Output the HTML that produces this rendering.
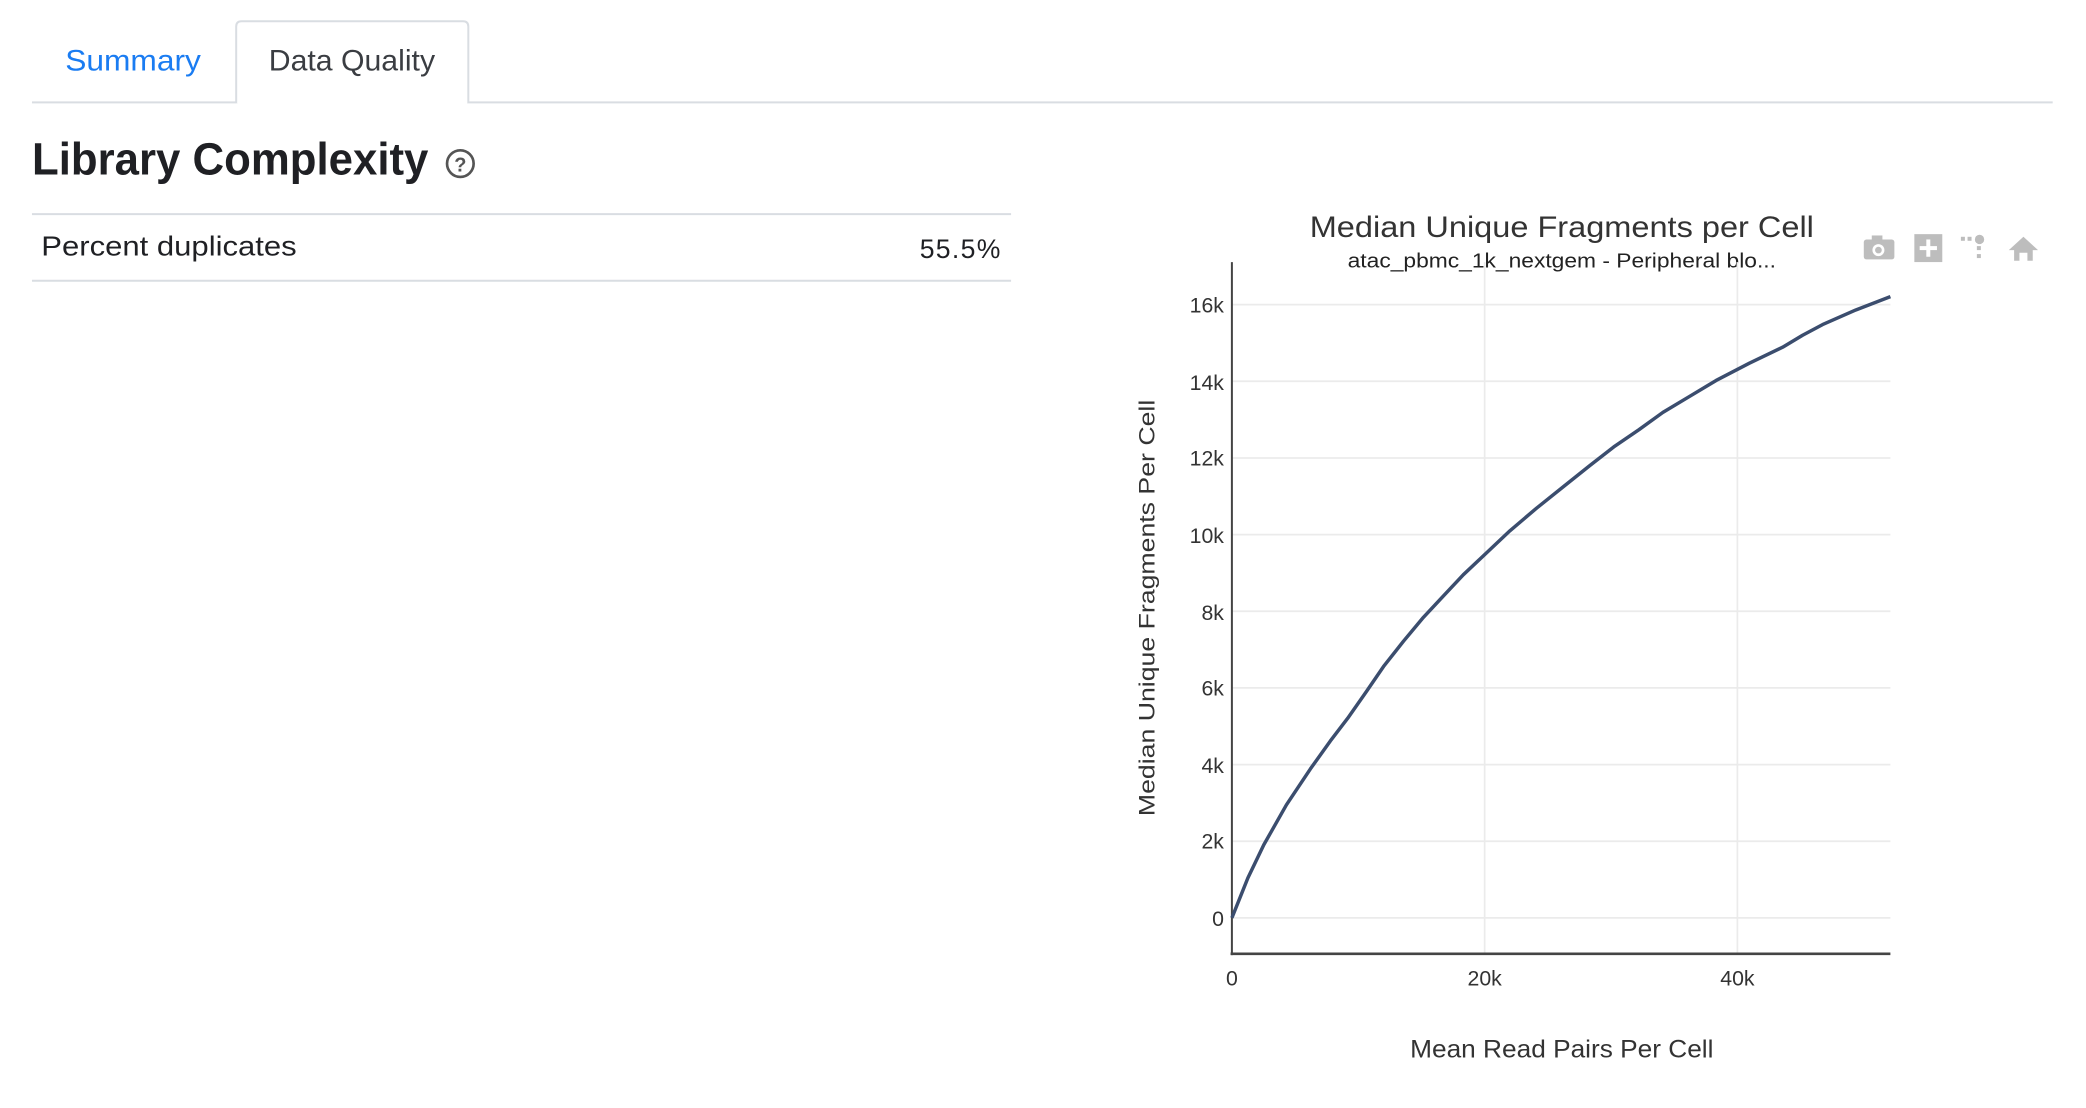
<!DOCTYPE html>
<html><head><meta charset="utf-8"><style>
html,body{margin:0;padding:0;background:#fff;}
svg{display:block;}
text{font-family:"Liberation Sans Narrow","Liberation Sans",sans-serif;}
</style></head><body>
<svg width="2086" height="1108" viewBox="0 0 1568 832.9" xmlns="http://www.w3.org/2000/svg">
<!-- tabs -->
<line x1="24" y1="77" x2="1543" y2="77" stroke="#d9dde2" stroke-width="1.5"/>
<path d="M177.5 77.5 V20 Q177.5 16 181.5 16 H348 Q352 16 352 20 V77.5" fill="#fff" stroke="#d9dde2" stroke-width="1.5"/>
<line x1="178.5" y1="77" x2="351" y2="77" stroke="#fff" stroke-width="2"/>
<text x="49" y="53" font-size="22" fill="#1a7cf2" textLength="102" lengthAdjust="spacingAndGlyphs">Summary</text>
<text x="202" y="53" font-size="22" fill="#3a3d42" textLength="125" lengthAdjust="spacingAndGlyphs">Data Quality</text>
<!-- heading -->
<text x="24" y="131" font-size="34" font-weight="bold" fill="#1f2024" textLength="298" lengthAdjust="spacingAndGlyphs">Library Complexity</text>
<circle cx="346" cy="123" r="10" fill="none" stroke="#555" stroke-width="2"/>
<text x="346" y="129" font-size="15" font-weight="bold" fill="#555" text-anchor="middle">?</text>
<line x1="24" y1="161" x2="760" y2="161" stroke="#d9dde2" stroke-width="1.5"/>
<line x1="24" y1="211" x2="760" y2="211" stroke="#d9dde2" stroke-width="1.5"/>
<text x="31" y="192" font-size="21" fill="#1f2024" textLength="192" lengthAdjust="spacingAndGlyphs">Percent duplicates</text>
<text x="753" y="194" font-size="20" fill="#1f2024" text-anchor="end" letter-spacing="1">55.5%</text>
<!-- chart -->
<text x="1174" y="178" font-size="22" fill="#333" text-anchor="middle" textLength="379" lengthAdjust="spacingAndGlyphs">Median Unique Fragments per Cell</text>
<text x="1174" y="201" font-size="15" fill="#222" text-anchor="middle" textLength="322" lengthAdjust="spacingAndGlyphs">atac_pbmc_1k_nextgem - Peripheral blo...</text>
<g fill="#bdbdbd">
<rect x="1401" y="180" width="23" height="15" rx="2"/><rect x="1407" y="177" width="8" height="4"/>
<circle cx="1412" cy="188" r="4.5" fill="#fff"/><circle cx="1412" cy="188" r="2.5"/>
<rect x="1439" y="176" width="21" height="21"/>
<rect x="1448" y="180" width="3" height="13" fill="#fff"/><rect x="1443" y="185" width="13" height="3" fill="#fff"/>
<rect x="1474" y="178" width="3" height="3"/><rect x="1479" y="178" width="3" height="3"/>
<circle cx="1488" cy="180" r="3.5"/><rect x="1486" y="185" width="3" height="3"/><rect x="1486" y="191" width="3" height="3"/>
<path d="M1510 188 L1521 178 L1532 188 H1528 V196 H1524 V190 H1518 V196 H1514 V188 Z"/>
</g>
<g stroke="#ebebeb" stroke-width="1.3">
<line x1="926" y1="229" x2="1421" y2="229"/>
<line x1="926" y1="286.6" x2="1421" y2="286.6"/>
<line x1="926" y1="344.3" x2="1421" y2="344.3"/>
<line x1="926" y1="401.9" x2="1421" y2="401.9"/>
<line x1="926" y1="459.5" x2="1421" y2="459.5"/>
<line x1="926" y1="517.1" x2="1421" y2="517.1"/>
<line x1="926" y1="574.8" x2="1421" y2="574.8"/>
<line x1="926" y1="632.4" x2="1421" y2="632.4"/>
<line x1="926" y1="690" x2="1421" y2="690"/>
<line x1="1116" y1="197" x2="1116" y2="717"/>
<line x1="1306" y1="197" x2="1306" y2="717"/>
</g>
<line x1="926" y1="197" x2="926" y2="718" stroke="#444" stroke-width="1.5"/>
<line x1="925" y1="717" x2="1421" y2="717" stroke="#444" stroke-width="2"/>
<g font-size="16" fill="#333" text-anchor="end">
<text x="920" y="235">16k</text><text x="920" y="293">14k</text><text x="920" y="350">12k</text>
<text x="920" y="408">10k</text><text x="920" y="466">8k</text><text x="920" y="523">6k</text>
<text x="920" y="581">4k</text><text x="920" y="638">2k</text><text x="920" y="696">0</text>
</g>
<g font-size="16" fill="#333" text-anchor="middle">
<text x="926" y="741">0</text><text x="1116" y="741">20k</text><text x="1306" y="741">40k</text>
</g>
<polyline fill="none" stroke="#3b4d6e" stroke-width="2.6" stroke-linejoin="round"
points="926,690 938,660 950,635 967,605 985,578 1000,557 1013,540 1027,520 1040,501 1055,482 1070,464 1085,448 1100,432 1117,416 1135,399 1155,382 1175,366 1195,350 1213,336 1232,323 1250,310 1270,298 1290,286 1315,273 1340,261 1355,252 1370,244 1395,233 1421,223"/>
<text transform="translate(868,457) rotate(-90)" font-size="17" fill="#333" text-anchor="middle" style="font-family:'Liberation Sans',sans-serif" textLength="313" lengthAdjust="spacingAndGlyphs">Median Unique Fragments Per Cell</text>
<text x="1174" y="795" font-size="19" fill="#333" text-anchor="middle" textLength="228" lengthAdjust="spacingAndGlyphs">Mean Read Pairs Per Cell</text>
</svg>
</body></html>
